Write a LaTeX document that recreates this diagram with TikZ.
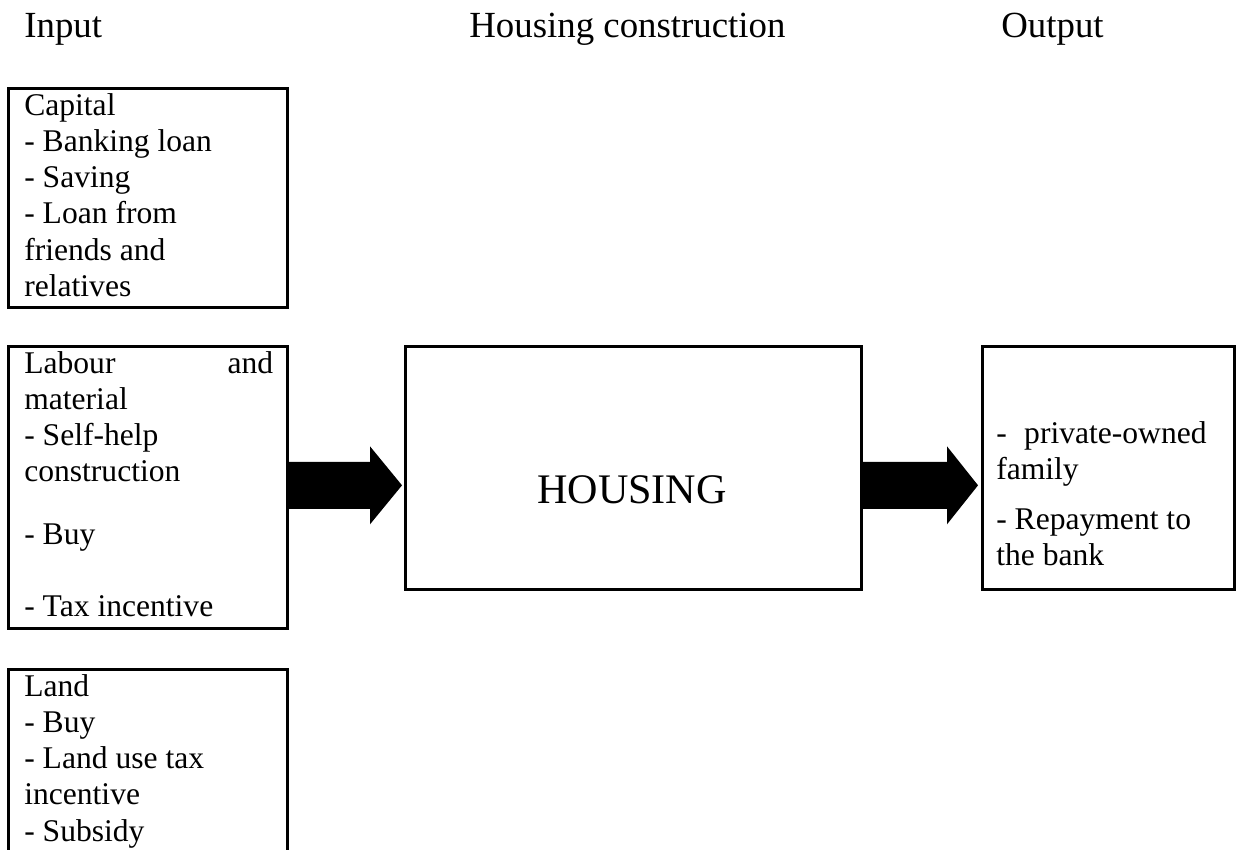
\documentclass[tikz,border=0pt]{standalone}
\usepackage{fontspec}
\setmainfont{Liberation Serif}
\usepackage{tikz}
\usetikzlibrary{calc}

\begin{document}
\begin{tikzpicture}[x=0.38pt,y=0.38pt,line width=1pt]
 \tikzstyle{box node}=[rectangle,draw,inner sep=0,anchor=north west]
 \tikzstyle{head node}=[inner sep=0,anchor=base west,font=\fontsize{14}{16}\selectfont]
 \tikzset{
 	list node/.style={inner sep=0,anchor=base west,font=\fontsize{12}{13.8}\selectfont},
 	big node/.style={inner sep=0,anchor=base,font=\fontsize{16}{18}\selectfont},
 	block arrow/.style={fill=black,draw=none}
 }

 \useasboundingbox (0,0) rectangle (1241,-849);
 \clip (0,0) rectangle (1241,-849);

       \node[head node] (hin) at (23,-37) {Input};
       \node[head node] (hcon) at (468,-37) {Housing construction};
       \node[head node] (hout) at (1000,-37) {Output};

       \node[box node,minimum width=279*0.38pt,minimum height=219*0.38pt] (capital) at (7,-87) {};
       \node[box node,minimum width=279*0.38pt,minimum height=282*0.38pt] (labour) at (7,-345) {};
       \node[box node,minimum width=279*0.38pt,minimum height=230*0.38pt] (land) at (7,-668) {};
       \node[box node,minimum width=456*0.38pt,minimum height=243*0.38pt] (housing) at (404,-345) {};
       \node[box node,minimum width=252*0.38pt,minimum height=243*0.38pt] (output) at (981,-345) {};

       \node[list node] (capitaltxt) at (23,-115) {\begin{tabular}[t]{@{}l@{}}
         Capital\\ - Banking loan\\ - Saving\\ - Loan from\\ friends and\\ relatives\end{tabular}};
       \node[list node] (labourtxt) at (23,-373) {\begin{tabular}[t]{@{}p{94.6pt}@{}}
         Labour\hfill and\\ material\\ - Self-help\\ construction\\[9.9pt] - Buy\\[13.5pt] - Tax incentive\end{tabular}};
       \node[list node] (landtxt) at (23,-696) {\begin{tabular}[t]{@{}l@{}}
         Land\\ - Buy\\ - Land use tax\\ incentive\\ - Subsidy\end{tabular}};
       \node[big node] (housingtxt) at (632,-503) {HOUSING};
       \node[list node] (outputtxt) at (995,-443) {\begin{tabular}[t]{@{}l@{}}
         -\hspace{0.55em}private-owned\\ family\\[5.2pt] - Repayment to\\ the bank\end{tabular}};

       \coordinate (a1) at ($(labour.east)+(0,2)$);
       \coordinate (a1tip) at ($(housing.west |- a1)+(-2,0)$);
       \coordinate (a2) at (housing.east |- a1);
       \coordinate (a2tip) at ($(output.west |- a1)+(-3,0)$);

     \fill[block arrow] ($(a1)+(0,23.5)$) -- ($(a1tip)+(-32,23.5)$) -- ($(a1tip)+(-32,39)$) -- (a1tip)
       -- ($(a1tip)+(-32,-39)$) -- ($(a1tip)+(-32,-23.5)$) -- ($(a1)+(0,-23.5)$) -- cycle;
     \fill[block arrow] ($(a2)+(0,23.5)$) -- ($(a2tip)+(-31,23.5)$) -- ($(a2tip)+(-31,39)$) -- (a2tip)
       -- ($(a2tip)+(-31,-39)$) -- ($(a2tip)+(-31,-23.5)$) -- ($(a2)+(0,-23.5)$) -- cycle;

 \end{tikzpicture}
\end{document}
